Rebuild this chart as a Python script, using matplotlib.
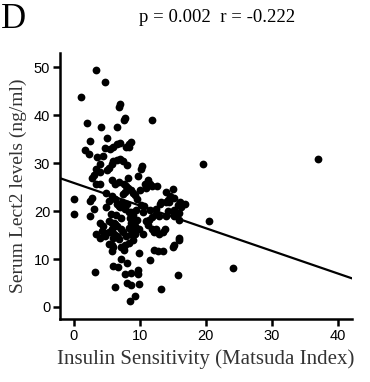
import numpy as np
import matplotlib.pyplot as plt

# Matsuda index (x) and serum Lect2 (y)
matsuda = [3.4, 4.7, 1.1, 2.0, 4.1, 7.0, 6.9, 7.8, 7.6, 11.9, 6.6, 2.5, 1.7, 2.3, 3.5,
           5.0, 4.7, 5.5, 6.0, 6.5, 7.0, 6.0, 6.5, 7.0, 7.5, 8.6, 8.4, 8.3, 7.9,
           3.9, 3.4, 3.0, 2.7, 3.9, 5.3, 5.8, 5.8, 6.3, 8.1, 10.3, 10.1, 9.7, 10.8,
           11.5, 7.6, 7.9, 8.2, 8.7, 8.9, 3.9, 3.4, 4.9, 5.8, 6.3, 6.6, 7.0, 5.3,
           4.9, 2.7, 2.4, 0.0, 0.0, 2.4, 3.1, 7.8, 8.3, 8.7, 9.0, 9.5, 9.2, 10.5,
           11.5, 12.5, 13.0, 13.2, 13.9, 14.4, 15.7, 16.2, 15.2, 13.9, 12.9, 3.9,
           4.4, 3.4, 3.9, 4.7, 5.3, 5.8, 6.3, 6.6, 7.1, 7.4, 7.9, 5.8, 6.1, 5.3,
           8.3, 8.6, 9.3, 9.3, 9.9, 10.5, 11.3, 11.9, 12.9, 4.2, 4.7, 5.4, 5.8,
           6.0, 5.8, 5.9, 6.6, 6.9, 7.2, 7.6, 7.8, 8.3, 8.9, 8.7, 9.0, 9.3, 9.9,
           7.2, 5.9, 6.7, 7.8, 8.0, 8.7, 9.7, 9.7, 8.7, 8.0, 9.9, 6.2, 8.5, 9.3,
           3.2, 11.6, 12.1, 12.8, 13.5, 15.0, 15.9, 15.8, 13.2, 12.1, 13.5, 24.1,
           19.5, 36.9, 11.8, 12.6, 15.0, 14.6, 14.3, 14.0, 15.2, 16.1, 16.8, 14.2,
           15.2, 15.1, 16.0, 12.4, 11.8, 11.4, 16.0, 20.5, 12.4, 13.8, 15.9, 15.1,
           6.8, 7.3, 8.0, 8.5, 9.6, 10.2, 6.4, 7.1, 8.8, 9.4, 5.6, 6.9, 7.7, 10.0,
           10.9, 11.2, 6.1, 7.4, 8.2, 9.1, 5.1, 4.4, 10.6, 11.0]
lect2 = [49.4, 46.9, 43.8, 38.5, 37.5, 42.3, 41.7, 39.4, 39.0, 39.0, 37.5, 34.7, 32.7,
         32.0, 31.3, 35.3, 33.2, 33.0, 33.5, 34.0, 34.2, 30.5, 30.6, 30.8, 30.5,
         34.5, 34.0, 33.5, 33.3, 29.9, 28.9, 27.5, 26.9, 28.2, 29.0, 29.9, 26.6,
         25.6, 29.6, 29.5, 28.8, 27.3, 25.6, 25.6, 25.6, 25.3, 24.9, 24.5, 23.8,
         25.6, 25.6, 23.9, 23.2, 22.5, 21.5, 20.8, 22.1, 20.9, 22.7, 22.1, 22.5,
         19.5, 19.0, 20.5, 20.5, 19.8, 19.8, 19.1, 22.6, 23.3, 19.8, 20.2, 20.5,
         21.6, 22.0, 24.0, 22.0, 21.3, 20.8, 19.0, 19.0, 19.0, 17.6, 16.9, 15.2,
         14.5, 14.9, 18.0, 17.6, 17.3, 16.9, 16.3, 15.6, 14.9, 16.2, 15.2, 13.1,
         16.5, 17.6, 16.9, 15.5, 16.3, 15.2, 17.2, 16.3, 15.2, 15.9, 15.5, 15.7,
         12.9, 12.5, 11.6, 14.4, 14.8, 14.1, 12.5, 12.0, 12.9, 13.3, 14.0, 15.3,
         16.0, 15.3, 11.3, 10.1, 8.6, 8.3, 6.8, 9.1, 7.0, 6.8, 7.8, 4.5, 5.1, 4.8,
         4.2, 1.3, 2.2, 7.4, 9.9, 11.8, 11.7, 11.6, 12.5, 14.0, 6.6, 3.7, 15.7,
         15.7, 8.2, 29.8, 30.9, 25.2, 25.2, 24.6, 23.1, 22.4, 21.9, 22.7, 21.9,
         21.4, 20.1, 20.3, 19.6, 19.6, 19.4, 18.8, 18.1, 18.1, 18.0, 16.2, 16.2,
         14.5, 13.0, 21.0, 22.0, 21.5, 18.5, 18.2, 21.2, 19.2, 18.6, 17.5, 20.3,
         19.5, 26.0, 24.0, 24.5, 24.9, 26.5, 17.5, 23.5, 27.0, 17.0, 28.5, 31.5,
         21.0, 18.0]

# fitted regression line
fit_intercept = 25.9
fit_slope = -0.473

x_ticks = [0, 10, 20, 30, 40]
y_ticks = [0, 10, 20, 30, 40, 50]
x_lim = (-2.1, 42.1)
y_lim = (-2.5, 53)

fig = plt.figure(figsize=(3.7, 3.82), dpi=100)
ax = fig.add_axes([0.162, 0.165, 0.789, 0.696])

ax.plot(matsuda, lect2, 'o', color='black', markersize=5.6, markeredgewidth=0)
xs = np.array(x_lim)
ax.plot(xs, fit_intercept + fit_slope * xs, color='black', linewidth=1.6)

ax.set_xlim(*x_lim)
ax.set_ylim(*y_lim)
ax.set_xticks(x_ticks)
ax.set_yticks(y_ticks)
for s in ['top', 'right']:
    ax.spines[s].set_visible(False)
for s in ['left', 'bottom']:
    ax.spines[s].set_linewidth(1.8)
ax.tick_params(width=1.8, length=5, labelsize=10.5, pad=2)
for lab in ax.get_xticklabels() + ax.get_yticklabels():
    lab.set_family('Liberation Sans')

ax.set_xlabel('Insulin Sensitivity (Matsuda Index)', family='Liberation Serif',
              fontsize=15, color='#333333', labelpad=5)
ax.set_ylabel('Serum Lect2 levels (ng/ml)', family='Liberation Serif',
              fontsize=14, color='#333333', labelpad=5)

fig.text(0.587, 0.955, 'p = 0.002  r = -0.222', family='Liberation Serif',
         fontsize=13.5, ha='center', va='center')
fig.text(0.003, 0.95, 'D', family='Liberation Serif', fontsize=25,
         ha='left', va='center')

fig.savefig('out.png', dpi=100)
